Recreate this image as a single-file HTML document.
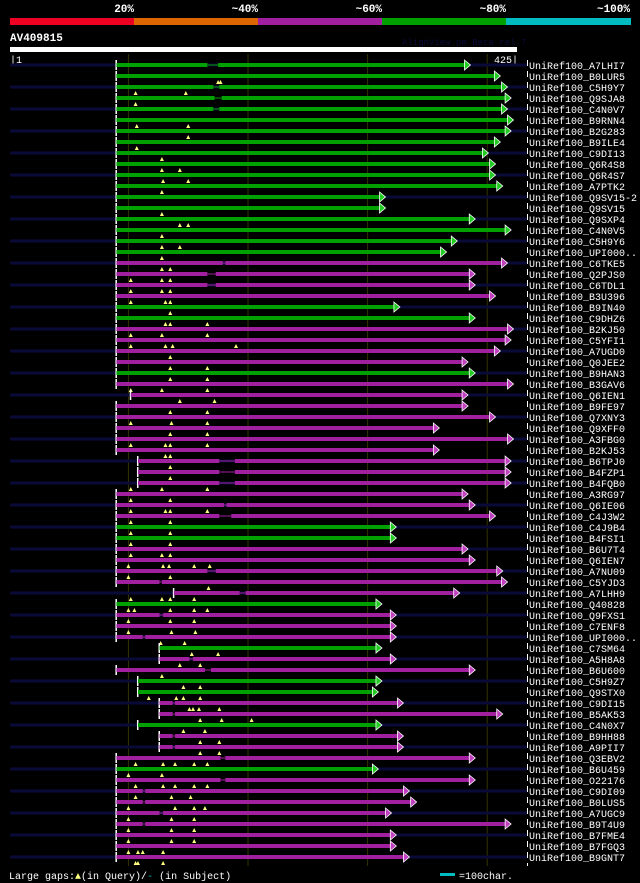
<!DOCTYPE html>
<html><head><meta charset="utf-8"><style>
html,body{margin:0;padding:0;background:#000;}
svg{display:block;}
text{font-family:"Liberation Mono",monospace;}
</style></head><body>
<svg id="chart" width="640" height="883" viewBox="0 0 640 883" xmlns="http://www.w3.org/2000/svg">
<rect x="0" y="0" width="640" height="883" fill="#000"/>
<g>
<rect x="10" y="18" width="124" height="7" fill="#ee0022"/>
<rect x="134" y="18" width="124" height="7" fill="#dd6600"/>
<rect x="258" y="18" width="124" height="7" fill="#a020a0"/>
<rect x="382" y="18" width="124" height="7" fill="#00a000"/>
<rect x="506" y="18" width="125" height="7" fill="#00bbc0"/>
<text x="134" y="12" fill="#fff" font-size="11" font-weight="bold" text-anchor="end">20%</text>
<text x="258" y="12" fill="#fff" font-size="11" font-weight="bold" text-anchor="end">~40%</text>
<text x="382" y="12" fill="#fff" font-size="11" font-weight="bold" text-anchor="end">~60%</text>
<text x="506" y="12" fill="#fff" font-size="11" font-weight="bold" text-anchor="end">~80%</text>
<text x="630" y="12" fill="#fff" font-size="11" font-weight="bold" text-anchor="end">~100%</text>
</g>
<text x="10" y="41" fill="#fff" font-size="11" font-weight="bold">AV409815</text>
<text x="402" y="45" fill="#0a0a3a" font-size="9">AlignView.pm Beta rel.7</text>
<rect x="10" y="47" width="507" height="5" fill="#fff"/>
<text x="10" y="63" fill="#fff" font-size="10">|1</text>
<text x="518" y="63" fill="#fff" font-size="10" text-anchor="end">425|</text>
<g id="grid"></g>
<g id="rows"></g>
<line x1="527.5" y1="60" x2="527.5" y2="866" stroke="#fff" stroke-width="1" stroke-dasharray="6,5"/>
<text x="9" y="879" fill="#fff" font-size="10">Large gaps:<tspan fill="#ffff80">▲</tspan>(in Query)/<tspan fill="#00bbc0">-</tspan> (in Subject)</text>
<rect x="440" y="873" width="15" height="3" fill="#00bbc0"/>
<text x="459" y="879" fill="#fff" font-size="10">=100char.</text>
</svg>
<script>
const labels=["A7LHI7","B0LUR5","C5H9Y7","Q9SJA8","C4N0V7","B9RNN4","B2G283","B9ILE4","C9DI13","Q6R4S8","Q6R4S7","A7PTK2","Q9SV15-2","Q9SV15","Q9SXP4","C4N0V5","C5H9Y6","UPI000..","C6TKE5","Q2PJS0","C6TDL1","B3U396","B9IN40","C9DHZ6","B2KJ50","C5YFI1","A7UGD0","Q0JEE2","B9HAN3","B3GAV6","Q6IEN1","B9FE97","Q7XNY3","Q9XFF0","A3FBG0","B2KJ53","B6TPJ0","B4FZP1","B4FQB0","A3RG97","Q6IE06","C4J3W2","C4J9B4","B4FSI1","B6U7T4","Q6IEN7","A7NU09","C5YJD3","A7LHH9","Q40828","Q9FXS1","C7ENF8","UPI000..","C7SM64","A5H8A8","B6U600","C5H9Z7","Q9STX0","C9DI15","B5AK53","C4N0X7","B9HH88","A9PII7","Q3EBV2","B6U459","O22176","C9DI09","B0LUS5","A7UGC9","B9T4U9","B7FME4","B7FGQ3","B9GNT7"];
const colors="GGGGGGGGGGGGGGGGGGMMMMGGMMMMGMMMMMMMMMMMMMGGMMMMMGMMMGMMGGMMGMMMGMMMMMMMM";
const starts=[90,90,90,90,90,90,90,90,90,90,90,90,90,90,90,90,90,90,90,90,90,90,90,90,90,90,90,90,90,90,102,90,90,90,90,90,108,108,108,90,90,90,90,90,90,90,90,90,138,90,90,90,90,126,126,90,108,108,126,126,108,126,126,90,90,90,90,90,90,90,90,90,90];
const ends=[386,411,417,420,417,422,420,411,401,407,407,413,315,315,390,420,375,366,417,390,390,407,327,390,422,420,411,384,390,422,384,384,407,360,422,360,420,420,420,384,390,407,324,324,384,390,413,417,377,312,324,324,324,312,324,390,312,309,330,413,312,330,330,390,309,390,335,341,320,420,324,324,335];
const gapS=[166,0,171,172,171,0,0,0,0,0,0,0,0,0,0,0,0,0,179,166,166,0,0,0,0,0,0,0,0,0,0,0,0,0,0,0,176,176,176,0,180,176,0,0,0,0,166,126,193,0,126,0,112,0,151,164,0,0,137,137,0,137,137,177,0,177,112,112,126,112,0,0,0];
const gapE=[175,0,176,178,176,0,0,0,0,0,0,0,0,0,0,0,0,0,181,173,173,0,0,0,0,0,0,0,0,0,0,0,0,0,0,0,189,189,189,0,182,186,0,0,0,0,173,128,198,0,129,0,114,0,154,169,0,0,139,139,0,139,139,181,0,181,114,114,129,114,0,0,0];
const markers=[[],[175,177],[106,148],[106],[],[107,150],[150],[107],[128],[128,143],[129,150],[128],[],[128],[143,150],[128],[128,143],[128],[128,135],[102,128,135],[102,128,135],[102,131,135],[135],[131,135,166],[102,128,166],[102,131,137,190],[135],[135,166],[135,166],[102,128,166],[143,172],[135,166],[102,136,166],[135,166],[102,131,135,166],[131,135],[135],[135],[102,128,166],[102,135],[102,131,135,166],[102,135],[102,135],[102,135],[102,128,135],[100,129,134,155,168],[100,135],[167],[102,128,135,155],[100,105,135,155,166],[100,135,155],[100,136,156],[127,147],[153,175],[143,160],[128],[146,160],[117,140,146,160],[151,154,159,176],[160,178,203],[146,164],[160,176],[160,176],[106,129,139,155,166],[100,128],[106,129,139,155,166],[106,136,152],[100,139,155,164],[100,136,155],[100,136,155],[100,136,155],[100,108,112,129],[106,108,129]];
const grid=[100,200,300,400];
function xPos(p){return 10+(p-1)*1.196;}
function rowY(i){return 65+i*11;}
const NS="http://www.w3.org/2000/svg";
function mk(tag,attrs,parent){const e=document.createElementNS(NS,tag);for(const k in attrs)e.setAttribute(k,attrs[k]);parent.appendChild(e);return e;}
const gG=document.getElementById('grid');
grid.forEach(g=>{
  const l=mk('line',{x1:xPos(g),y1:54,x2:xPos(g),y2:866,stroke:'#333300','stroke-width':1},gG);
  
  
});
const rG=document.getElementById('rows');
labels.forEach((lab,i)=>{
  const y=rowY(i);
  const col=colors[i]==='G'?'#00a000':'#a020a0';
  const tipCol=colors[i]==='G'?'#22cc22':'#c040c0';
  const g=mk('g',{},rG);
  
  
  if(i%2===0){
    const n=mk('rect',{x:10,y:y-1.5,width:517,height:3,fill:'#0a0a38'},g);
    
    
  }
  const xs=xPos(starts[i]), xe=xPos(ends[i]);
  const tk=mk('rect',{x:xs-1,y:y-5,width:1.5,height:10,fill:'#fff'},g);
  
  
  if(gapS[i]>0){
    const a=mk('rect',{x:xs,y:y-2,width:xPos(gapS[i])-xs,height:4,fill:col},g);
    
    
    const gl=mk('rect',{x:xPos(gapS[i]),y:y-0.5,width:xPos(gapE[i])-xPos(gapS[i]),height:1,fill:col},g);
    
    
    const b=mk('rect',{x:xPos(gapE[i]),y:y-2,width:xe-6-xPos(gapE[i]),height:4,fill:col},g);
    
    
  } else {
    const a=mk('rect',{x:xs,y:y-2,width:xe-6-xs,height:4,fill:col},g);
    
    
  }
  const t=mk('polygon',{points:`${xe-6},${y-5} ${xe},${y} ${xe-6},${y+5}`,fill:tipCol,stroke:'#fff','stroke-width':0.8},g);
  
  
  markers[i].forEach(m=>{
    const mx=xPos(m);
    const p=mk('polygon',{points:`${mx-2},${y+8} ${mx},${y+4} ${mx+2},${y+8}`,fill:'#ffff80'},g);
    
    
  });
  const tx=mk('text',{x:529,y:y+4,fill:'#fff','font-size':10},g);
  tx.textContent='UniRef100_'+lab;
  
  
});
</script>
</body></html>
